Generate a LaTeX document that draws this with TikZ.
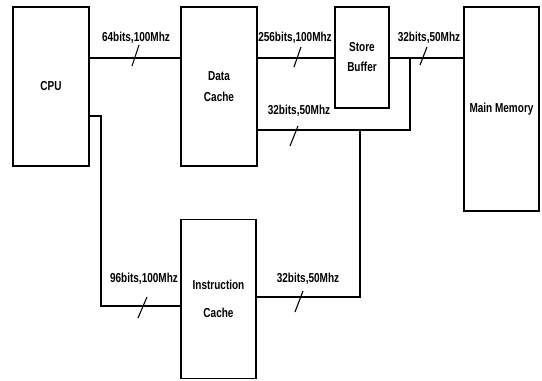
\documentclass[tikz,border=0pt]{standalone}
\usepackage{fontspec}
\setmainfont[FakeStretch=0.77]{Liberation Sans}
\usepackage{tikz}
\usetikzlibrary{positioning}

\begin{document}
\begin{tikzpicture}[
  x=1pt,y=-1pt,
  unit/.style={draw,line width=1.9pt,inner sep=0pt,align=center,font=\bfseries\fontsize{13}{21}\selectfont},
  bus/.style={line width=1.9pt},
  tick/.style={line width=1.1pt},
  lbl/.style={inner sep=0pt,font=\bfseries\fontsize{13}{14}\selectfont}
]
\useasboundingbox (0,0) rectangle (542,381);

\node[unit,minimum width=76pt,minimum height=159pt] (cpu) at (51,86.5) {CPU};
\node[unit,minimum width=76pt,minimum height=159pt] (dc) at (219,86.5) {Data\\Cache};
\node[unit,minimum width=54pt,minimum height=101pt,font=\bfseries\fontsize{13}{20}\selectfont] (sb) at (362,57.5) {Store\\Buffer};
\node[unit,minimum width=75pt,minimum height=204pt] (mm) at (501.5,109) {Main Memory};
\node[unit,minimum width=75pt,minimum height=159pt,font=\bfseries\fontsize{13}{28}\selectfont] (ic) at (218.5,299) {Instruction\\Cache};

% bus rails
\coordinate (top) at (0,58);
\coordinate (mid) at (0,130);
\coordinate (jn) at (410,58);
\coordinate (tap) at (360,130);
\coordinate (low) at (0,297);
\coordinate (cpuo) at (101,116);
\coordinate (ici) at (101,306);

\draw[bus] (cpu.east |- top) -- (dc.west |- top);
\draw[bus] (dc.east |- top) -- (sb.west |- top);
\draw[bus] (sb.east |- top) -- (mm.west |- top);
\draw[bus] (jn) -- (jn |- mid) -- (dc.east |- mid);
\draw[bus] (tap) -- (tap |- low) -- (ic.east |- low);
\draw[bus] (cpu.east |- cpuo) -- (cpuo) -- (ici) -- (ic.west |- ici);

% width marks
\draw[tick] (135.5,55.5) ++(-3.5,10.5) -- ++(7,-21);
\draw[tick] (297.5,57) ++(-3.5,10) -- ++(7,-20);
\draw[tick] (423.5,56) ++(-3.5,9) -- ++(7,-18);
\draw[tick] (294,136) ++(-4,10) -- ++(8,-20);
\draw[tick] (299,301.5) ++(-4,10.5) -- ++(8,-21);
\draw[tick] (142.5,307.5) ++(-4.5,10.5) -- ++(9,-21);

% bus labels
\node[lbl] (l1) at (136,38) {64bits,100Mhz};
\node[lbl] (l2) at (295,38) {256bits,100Mhz};
\node[lbl] (l3) at (429,38) {32bits,50Mhz};
\node[lbl] (l4) at (299,111) {32bits,50Mhz};
\node[lbl] (l5) at (308,279) {32bits,50Mhz};
\node[lbl] (l6) at (144,279) {96bits,100Mhz};
\end{tikzpicture}
\end{document}
